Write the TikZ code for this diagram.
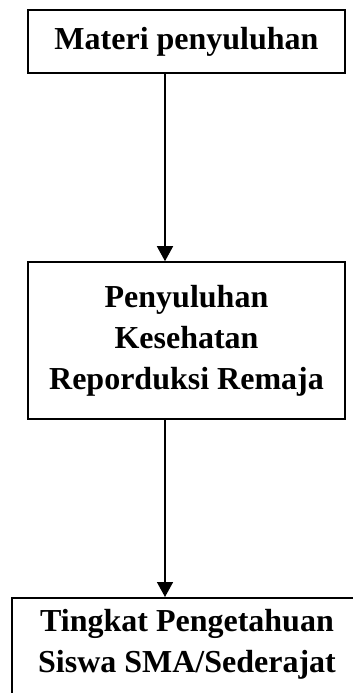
\documentclass[tikz,border=0pt]{standalone}
\usepackage{fontspec}
\setmainfont{Liberation Serif}
\usepackage{tikz}
\usetikzlibrary{arrows.meta}

\newcommand{\boxfont}{\bfseries\fontsize{32}{41}\selectfont}

\begin{document}
\begin{tikzpicture}[x=1pt, y=-1pt,
	box/.style={draw, line width=1.6pt, align=center, font=\boxfont, inner sep=0pt},
	arr/.style={line width=1.6pt, -{Triangle[length=15pt,width=16pt]}}]

	\useasboundingbox (0,0) rectangle (353,693);
	\clip (0,0) rectangle (353,693);

	% ---- boxes

	\def\boxw{317}
	\def\arrx{165}

	\node[box, minimum width=\boxw pt, minimum height=63pt] (materi) at (186.5,41.5) {Materi penyuluhan};

	\node[box, minimum width=\boxw pt, minimum height=157pt] (penyuluhan) at (186.5,340.5) {Penyuluhan\\Kesehatan\\Reporduksi Remaja};

	\node[box, anchor=north, minimum width=350pt, minimum height=200pt] (tingkat) at (187,597) {};
	\node[font=\boxfont, align=center, anchor=north, inner sep=0pt] (tingkatlabel) at ([yshift=-12pt]tingkat.north) {Tingkat Pengetahuan\\Siswa SMA/Sederajat};

	% ---- arrows

	\coordinate (A) at (\arrx,0);

	\draw[arr] (materi.south -| A) -- (penyuluhan.north -| A);
	\draw[arr] (penyuluhan.south -| A) -- (tingkat.north -| A);

\end{tikzpicture}
\end{document}
